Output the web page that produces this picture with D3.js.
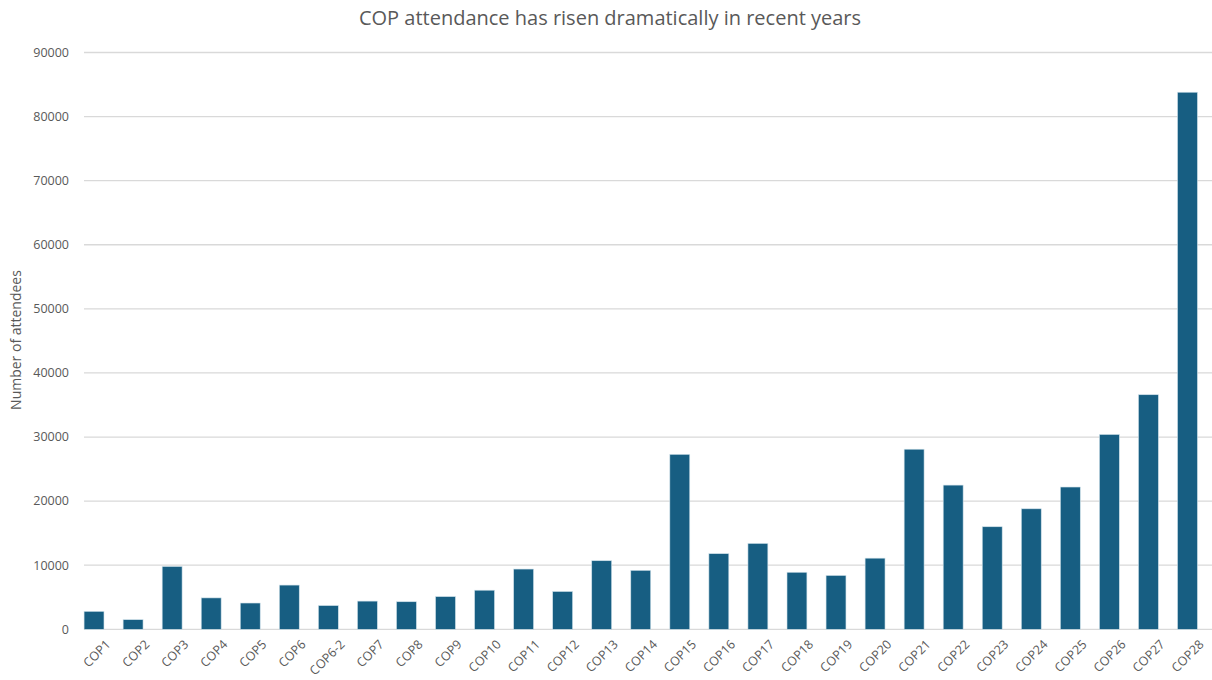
<!DOCTYPE html>
<html><head><meta charset="utf-8">
<script src="https://cdn.jsdelivr.net/npm/d3@7"></script>
<style>body{margin:0;background:#fff;} text{font-family:"Open Sans","Liberation Sans",sans-serif;}</style>
</head><body>
<svg id="c" width="1212" height="680"></svg>
<script>
const categories = ["COP1","COP2","COP3","COP4","COP5","COP6","COP6-2","COP7","COP8","COP9","COP10","COP11","COP12","COP13","COP14","COP15","COP16","COP17","COP18","COP19","COP20","COP21","COP22","COP23","COP24","COP25","COP26","COP27","COP28"];
const attendees = [2800,1500,9800,4900,4100,6900,3700,4400,4300,5100,6100,9400,5900,10700,9200,27300,11800,13400,8900,8400,11100,28100,22500,16000,18800,22200,30400,36600,83800];
const yTicks = [0,10000,20000,30000,40000,50000,60000,70000,80000,90000];
const title = "COP attendance has risen dramatically in recent years";
const yTitle = "Number of attendees";

const svg = d3.select("#c");
const x = d3.scaleBand().domain(categories).range([74.5, 1207]).paddingInner(0.49).paddingOuter(0.245);
const y = d3.scaleLinear().domain([0, 90000]).range([629.3, 52.5]);

svg.append("g").selectAll("line").data(yTicks).join("line")
  .attr("x1", 84).attr("x2", 1212)
  .attr("y1", d => y(d)).attr("y2", d => y(d))
  .attr("stroke", "#d9d9d9").attr("stroke-width", 1.3);

svg.append("g").selectAll("text").data(yTicks).join("text")
  .attr("x", 69).attr("y", d => y(d)).attr("dy", "0.35em")
  .attr("text-anchor", "end").attr("fill", "#595959").attr("font-size", 12.5)
  .text(d => d);

svg.append("g").selectAll("rect").data(categories).join("rect")
  .attr("x", d => x(d)).attr("width", x.bandwidth())
  .attr("y", (d,i) => y(attendees[i])).attr("height", (d,i) => y(0) - y(attendees[i]))
  .attr("fill", "#175e82").attr("stroke", "#cfe1ea").attr("stroke-width", 0.6);

svg.append("g").selectAll("text").data(categories).join("text")
  .attr("transform", d => `translate(${x(d) + x.bandwidth()/2 + 11},${639}) rotate(-45)`)
  .attr("text-anchor", "end").attr("dy", "0.7em")
  .attr("fill", "#595959").attr("font-size", 12.5)
  .text(d => d);

svg.append("text").attr("x", 610).attr("y", 25).attr("text-anchor", "middle")
  .attr("fill", "#595959").attr("font-size", 20).text(title);

svg.append("text").attr("transform", "translate(21,340) rotate(-90)")
  .attr("text-anchor", "middle").attr("fill", "#595959").attr("font-size", 14).text(yTitle);
</script>
</body></html>
